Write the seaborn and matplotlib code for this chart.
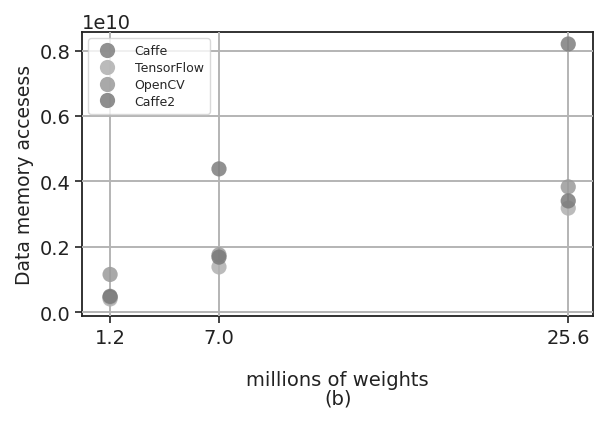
import matplotlib
matplotlib.use("Agg")
import matplotlib.pyplot as plt
import seaborn as sns
import pandas as pd

weights = [1.2, 7.0, 25.6]
caffe = [0.045e10, 0.438e10, 0.82e10]
tensorflow = [0.040e10, 0.138e10, 0.318e10]
opencv = [0.115e10, 0.175e10, 0.383e10]
caffe2 = [0.048e10, 0.168e10, 0.340e10]
frameworks = ["Caffe", "TensorFlow", "OpenCV", "Caffe2"]
colors = ["#7e7e7e", "#b0b0b0", "#9a9a9a", "#7a7a7a"]

rows = []
for name, vals in zip(frameworks, [caffe, tensorflow, opencv, caffe2]):
    for w, v in zip(weights, vals):
        rows.append({"weights": w, "accesses": v, "framework": name})
df = pd.DataFrame(rows)

sns.set_style("whitegrid")
plt.rcParams['font.family'] = ['DejaVu Sans']

fig = plt.figure(figsize=(5.95, 4.39), dpi=100)
ax = fig.add_axes([0.138, 0.278, 0.859, 0.647])
sns.scatterplot(data=df, x="weights", y="accesses", hue="framework",
                palette=dict(zip(frameworks, colors)), s=120, alpha=0.85,
                edgecolor="none", ax=ax, zorder=3)
ax.set_xticks(weights)
ax.set_xticklabels([f"{w:.1f}" for w in weights], fontsize=14)
ax.set_yticks([0, 0.2e10, 0.4e10, 0.6e10, 0.8e10])
ax.ticklabel_format(axis='y', style='sci', scilimits=(10, 10))
ax.tick_params(axis='y', labelsize=14)
ax.yaxis.get_offset_text().set_fontsize(14)
ax.set_xlim(-0.29, 26.93)
ax.set_ylim(-0.012e10, 0.857e10)
ax.grid(True, color="#b4b4b4", linewidth=1.4)
ax.set_axisbelow(False)
for sp in ax.spines.values():
    sp.set_color("#222222")
    sp.set_linewidth(1.3)
ax.tick_params(axis='both', which='both', length=5, width=1.2, color="#222222",
               direction='out', bottom=True, left=True, labelcolor="#222222")
ax.tick_params(axis='x', pad=4)
ax.set_xlabel("millions of weights\n(b)", fontsize=14, labelpad=16, color="#222222",
              linespacing=1.0)
ax.set_ylabel("Data memory accesess", fontsize=13.5, color="#222222")
leg = ax.legend(loc="upper left", fontsize=9, frameon=True, markerscale=1.0,
                borderpad=0.5, labelspacing=0.3, handletextpad=1.2,
                bbox_to_anchor=(0.0, 1.0))
leg.get_frame().set_edgecolor("#d0d0d0")
fig.savefig("out.png", dpi=100)
